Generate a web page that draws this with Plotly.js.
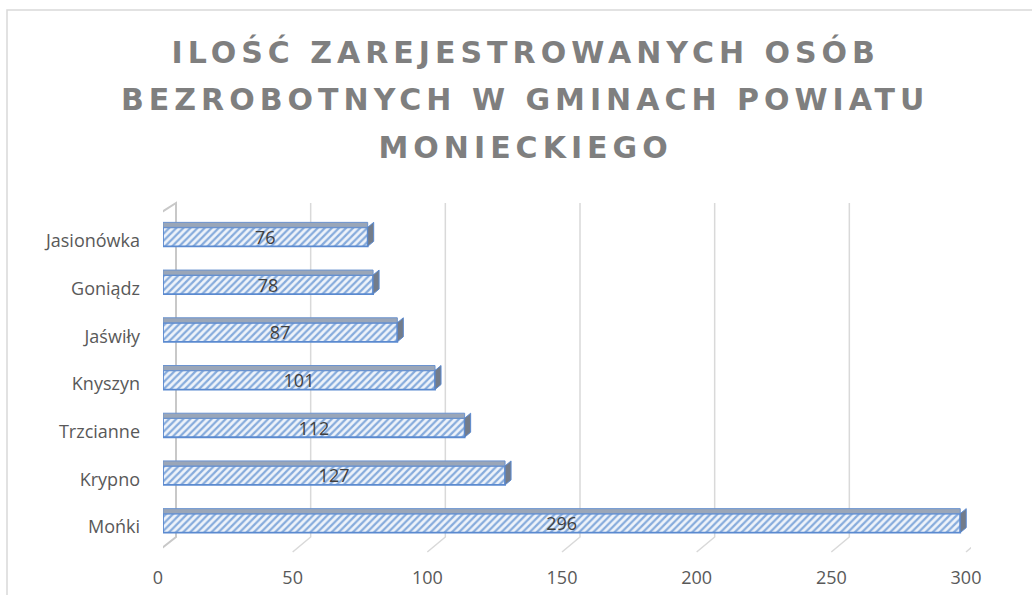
<!DOCTYPE html>
<html>
<head>
<meta charset="utf-8">
<script src="https://cdn.plot.ly/plotly-3.0.1.min.js"></script>
<style>
  html, body { margin: 0; padding: 0; background: #fff; }
  #chart { width: 1032px; height: 595px; }
  #chart .annotation-text { letter-spacing: 5px; }
</style>
</head>
<body>
<div id="chart"></div>
<script>
// ---- data ----
const categories = ['Mońki', 'Krypno', 'Trzcianne', 'Knyszyn', 'Jaświły', 'Goniądz', 'Jasionówka'];
const values = [296, 127, 112, 101, 87, 78, 76];
const xTicks = [0, 50, 100, 150, 200, 250, 300];
const titleLines = ['ILOŚĆ ZAREJESTROWANYCH OSÓB', 'BEZROBOTNYCH W GMINACH POWIATU', 'MONIECKIEGO'];

// ---- styling ----
const FONT = 'Open Sans, Noto Sans, sans-serif';
const TITLE_FONT = 'DejaVu Sans, Open Sans, sans-serif';
const frontHalf = 9.5;   // half height of bar front face (px)
const depthX = 6, depthY = 5;

const trace = {
  type: 'bar',
  orientation: 'h',
  y: categories,
  x: values,
  width: 0.4,
  text: values.map(String),
  textposition: 'inside',
  insidetextanchor: 'middle',
  constraintext: 'none',
  textangle: 0,
  textfont: { family: FONT, size: 18, color: '#404040' },
  marker: {
    color: '#e6eef8',
    line: { color: '#5b8ad0', width: 1.8 },
    pattern: { shape: '/', fgcolor: '#86abdc', bgcolor: '#eef3fa', size: 5, solidity: 0.45 }
  },
  hoverinfo: 'none'
};

const shapes = [];
// chart frame
shapes.push({
  type: 'rect', xref: 'paper', yref: 'paper', layer: 'below',
  x0: (7 - 163) / 808, x1: 1.2, y0: -0.5, y1: (547 - 10) / 334,
  line: { color: '#d9d9d9', width: 1.5 }, fillcolor: 'rgba(0,0,0,0)'
});
// back-wall gridlines + floor diagonals, and the left wall at 0
xTicks.forEach(function (v, i) {
  if (i === 0) {
    shapes.push({
      type: 'path', xref: 'x', yref: 'paper', layer: 'below',
      xsizemode: 'pixel', xanchor: v, ysizemode: 'pixel', yanchor: 0,
      path: 'M -6 -5 L -6 332 L 13 344 L 13 10 Z',
      line: { color: '#c8c8c8', width: 2 }, fillcolor: 'rgba(0,0,0,0)'
    });
  } else {
    shapes.push({
      type: 'path', xref: 'x', yref: 'paper', layer: 'below',
      xsizemode: 'pixel', xanchor: v, ysizemode: 'pixel', yanchor: 0,
      path: 'M 13 344 L 13 10 L -5 -5',
      line: { color: '#d9d9d9', width: 1.5 }
    });
  }
});
// 3D top faces and end caps of the bars
categories.forEach(function (c, i) {
  shapes.push({
    type: 'rect', xref: 'x', yref: 'y', layer: 'above',
    x0: 0, x1: values[i],
    ysizemode: 'pixel', yanchor: c, y0: frontHalf, y1: frontHalf + depthY,
    line: { color: '#6b93cf', width: 1 }, fillcolor: '#9aa6b8'
  });
  shapes.push({
    type: 'path', xref: 'x', yref: 'y', layer: 'above',
    xsizemode: 'pixel', xanchor: values[i], ysizemode: 'pixel', yanchor: c,
    path: 'M 0 ' + (-frontHalf) + ' L ' + depthX + ' ' + (-frontHalf + depthY) +
          ' L ' + depthX + ' ' + (frontHalf + depthY) + ' L 0 ' + frontHalf + ' Z',
    line: { color: '#5b8ad0', width: 1 }, fillcolor: '#737c8a'
  });
});

const titleY = [(547 - 52) / 334, (547 - 99) / 334, (547 - 147) / 334];
const annotations = titleLines.map(function (t, i) {
  return {
    text: t, xref: 'paper', yref: 'paper', x: (525 - 163) / 808, y: titleY[i],
    xanchor: 'center', yanchor: 'middle', showarrow: false,
    font: { family: TITLE_FONT, size: 30, color: '#7f7f7f', weight: 700 }
  };
});

const layout = {
  width: 1032, height: 595,
  margin: { l: 163, r: 61, t: 213, b: 48 },
  paper_bgcolor: '#ffffff',
  plot_bgcolor: 'rgba(0,0,0,0)',
  showlegend: false,
  bargap: 0.6,
  xaxis: {
    range: [0, 300], tickvals: xTicks, ticktext: xTicks.map(String),
    showgrid: false, zeroline: false, showline: false, ticks: '',
    ticklabelstandoff: 18, ticklabelshift: -5,
    tickfont: { family: FONT, size: 18, color: '#595959' }
  },
  yaxis: {
    type: 'category', categoryorder: 'array', categoryarray: categories,
    range: [-0.5, 6.5],
    showgrid: false, zeroline: false, showline: false, ticks: '',
    ticklabelstandoff: 22, ticklabelshift: 4,
    tickfont: { family: FONT, size: 18, color: '#595959' }
  },
  shapes: shapes,
  annotations: annotations
};

Plotly.newPlot('chart', [trace], layout, { displayModeBar: false, staticPlot: true });
</script>
</body>
</html>
